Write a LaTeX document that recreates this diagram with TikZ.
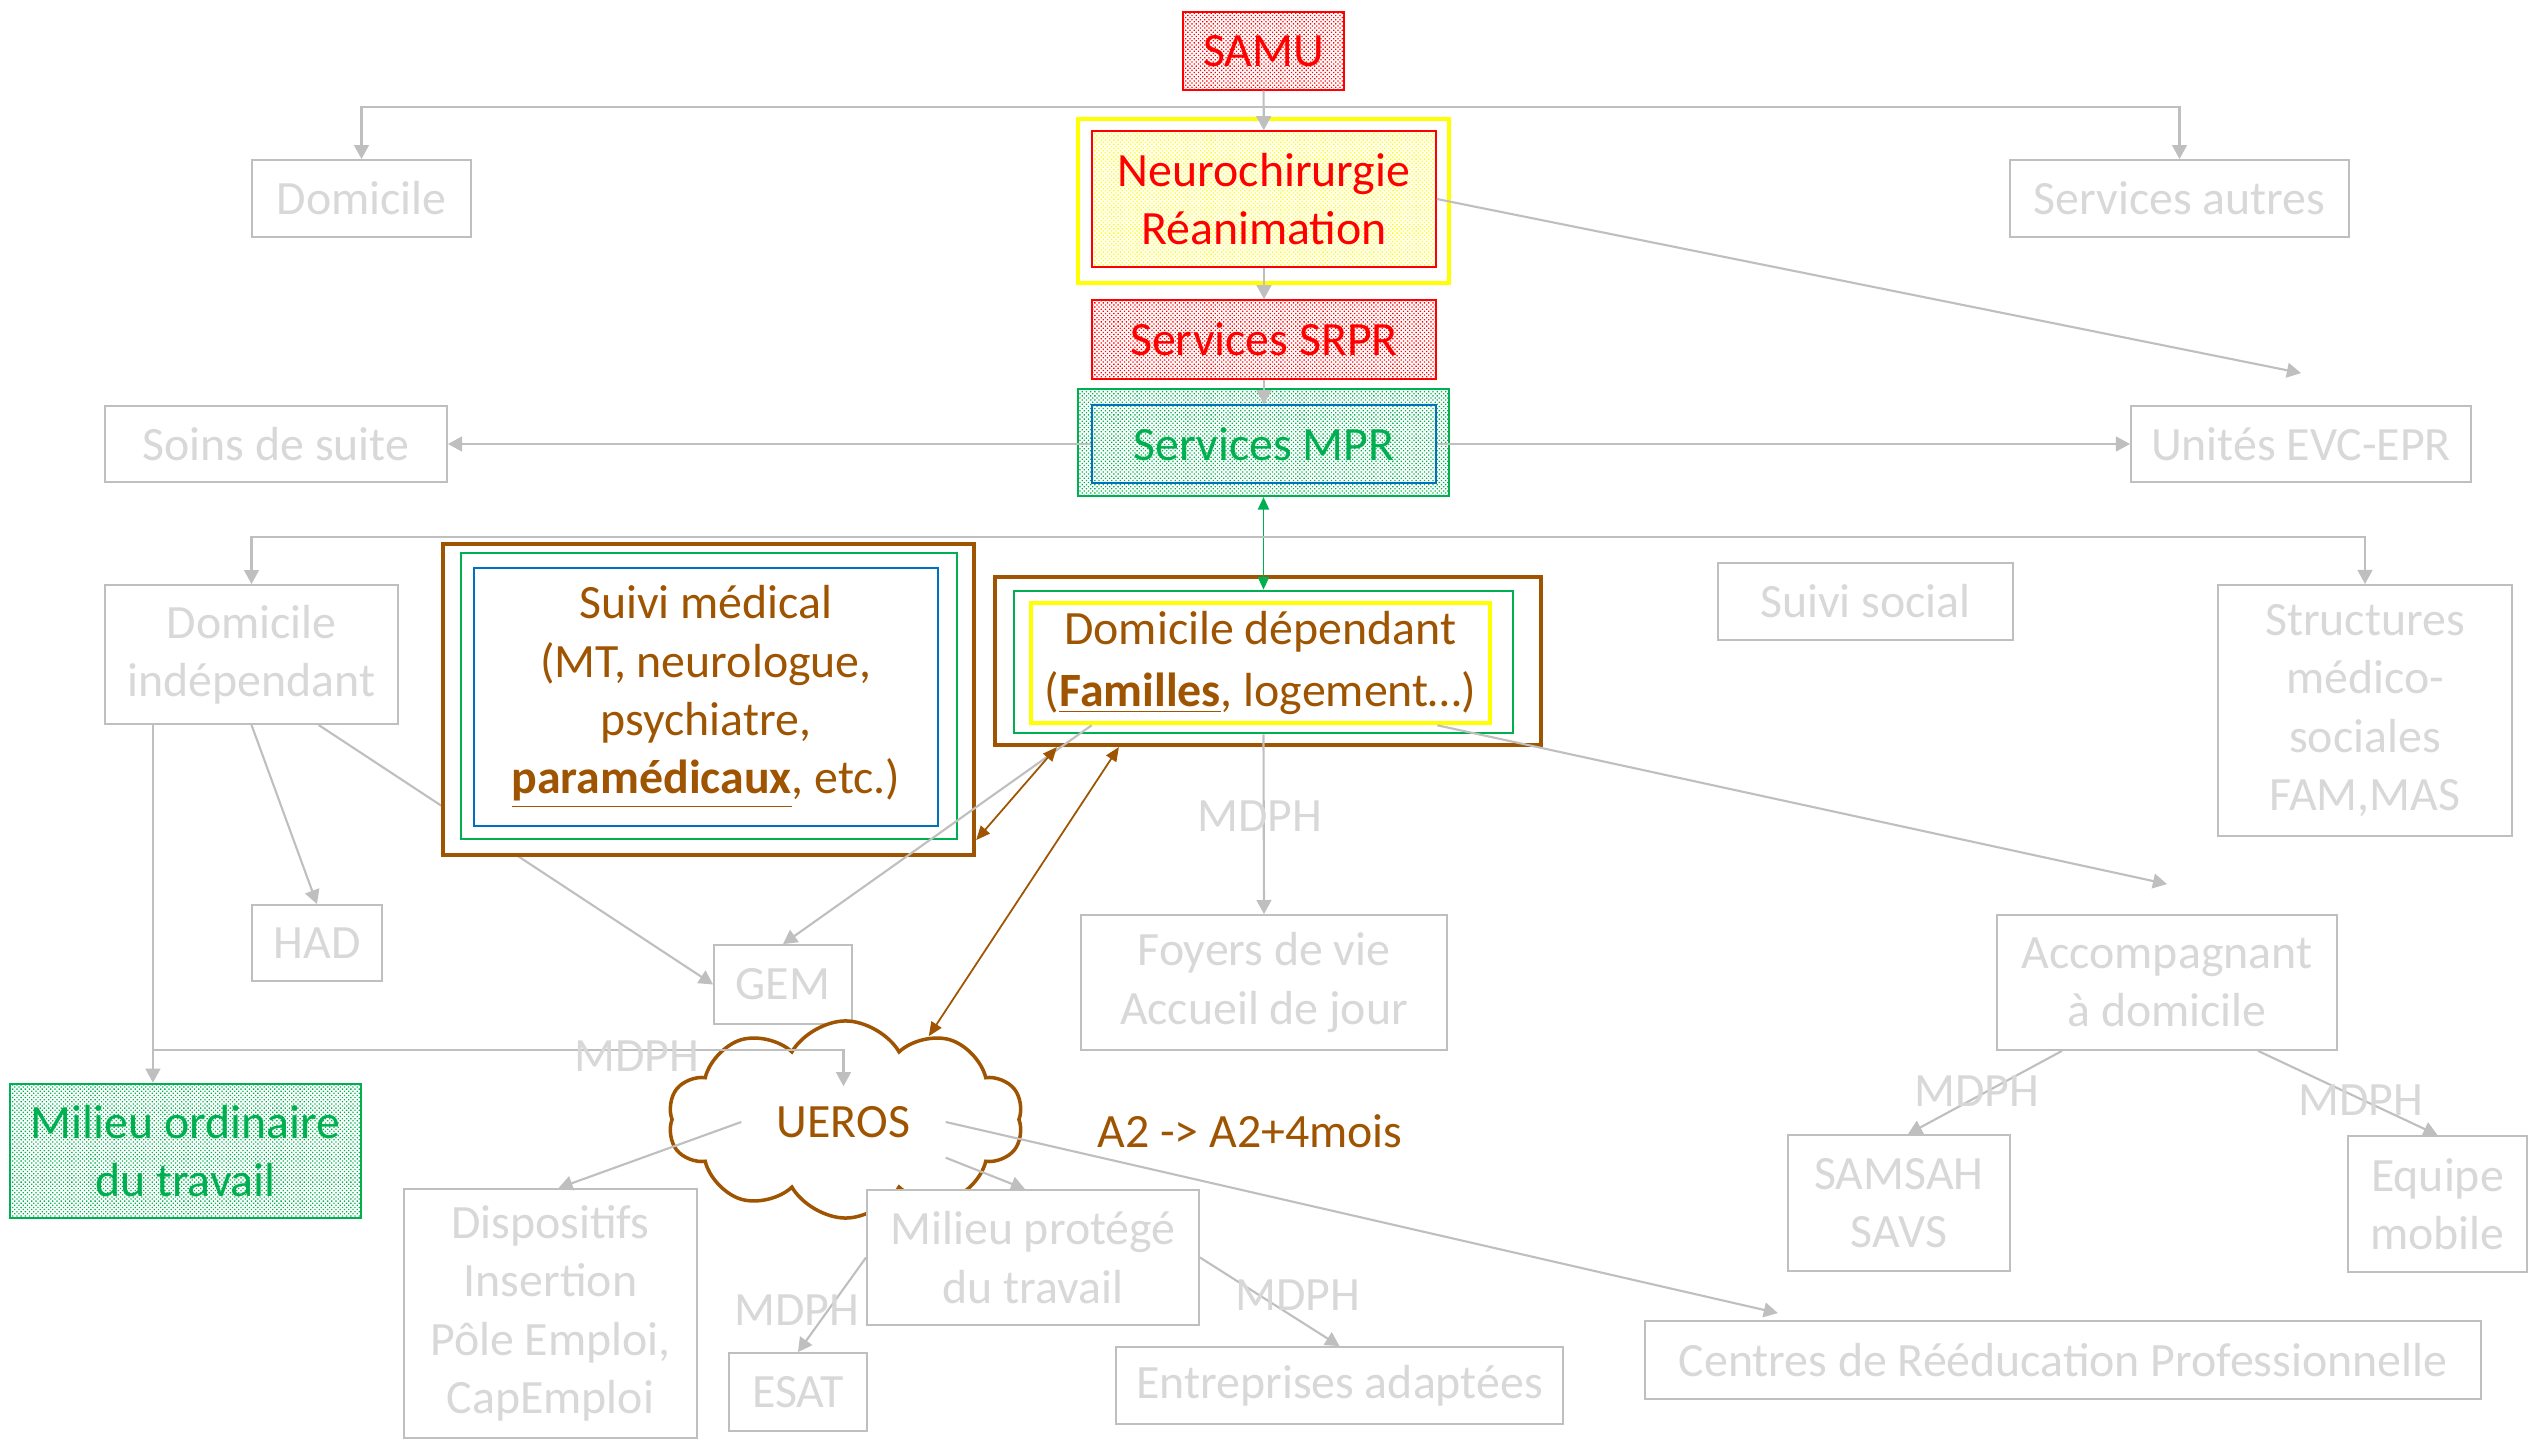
\documentclass[tikz,border=0pt]{standalone}
\usepackage{fontspec}
\setmainfont{Carlito}
\usetikzlibrary{arrows.meta,shapes.symbols,patterns.meta}
\pgfdeclarelayer{background}
\pgfsetlayers{background,main}
\definecolor{linegray}{RGB}{191,191,191}
\definecolor{textgray}{RGB}{216,216,216}
\definecolor{ppbrown}{RGB}{158,84,0}
\definecolor{ppgreen}{RGB}{0,176,80}
\definecolor{ppblue}{RGB}{0,112,192}
\definecolor{ppred}{RGB}{255,0,0}
\definecolor{ppyellow}{RGB}{255,255,0}
\newcommand{\diagfont}{\fontsize{13.6pt}{16.6pt}\selectfont}
\tikzset{
  dims/.style 2 args={minimum width=#1, minimum height=#2},
  box/.style={
    rectangle,
    inner sep=0pt,
    align=center,
    font=\diagfont
  },
  box-gray/.style={box, draw=linegray, line width=0.5pt, fill=white, text=textgray},
  box-dots/.style={
    box,
    preaction={fill=white},
    pattern={Dots[radius=0.26pt, distance=0.85pt, angle=45]}
  },
  box-red/.style={box-dots, draw=ppred, line width=0.4pt, pattern color=ppred, text=ppred},
  box-yellow/.style={box-dots, draw=ppred, line width=0.4pt, pattern color=ppyellow, text=ppred},
  box-green/.style={box-dots, draw=ppgreen, line width=0.7pt, pattern color=ppgreen, text=ppgreen},
  frame-yellow/.style={box, draw=ppyellow, line width=1.3pt},
  frame-brown/.style={box, draw=ppbrown, line width=1.15pt, fill=white},
  frame-green/.style={box, draw=ppgreen, line width=0.75pt},
  frame-blue/.style={box, draw=ppblue, line width=0.45pt},
  tag-gray/.style={font=\diagfont, text=textgray, inner sep=0pt},
  arrow-gray/.style={draw=linegray, line width=0.6pt, -{Triangle[length=4pt, width=4.2pt]}},
  arrow-brown/.style={draw=ppbrown, line width=0.5pt,
    {Triangle[length=4pt, width=3.4pt]}-{Triangle[length=4pt, width=3.4pt]}},
  arrow-green/.style={draw=ppgreen, line width=0.5pt,
    {Triangle[length=3.6pt, width=3.2pt]}-{Triangle[length=3.6pt, width=3.2pt]}}
}
\newcommand{\boldul}[1]{\underline{\textbf{#1}}}

\begin{document}
\begin{tikzpicture}[x=0.01cm, y=-0.01cm]
  \useasboundingbox (0,0) rectangle (2529,1440);
  % Hospital path
  \node[box-red, dims={1.61cm}{0.78cm}] (samu) at (1263.5,51) {SAMU};
  \node[frame-yellow, dims={3.71cm}{1.64cm}] (neuro-frame) at (1263.5,201) {};
  \node[box-yellow, dims={3.44cm}{1.36cm}] (neuro) at (1264,199) {Neurochirurgie\\Réanimation};
  \node[box-red, dims={3.44cm}{0.79cm}] (srpr) at (1264,339.5) {Services SRPR};
  \node[box-green, line width=0.6pt, dims={3.71cm}{1.07cm}] (mpr-frame) at (1263.5,442.5) {};
  \node[frame-blue, line width=0.4pt, text=ppgreen, dims={3.44cm}{0.78cm}] (mpr) at (1264,444) {Services MPR};
  % Side exits
  \node[box-gray, dims={2.19cm}{0.77cm}] (dom) at (361.5,198.5) {Domicile};
  \node[box-gray, dims={3.39cm}{0.77cm}] (autres) at (2179.5,198.5) {Services autres};
  \node[box-gray, dims={3.42cm}{0.76cm}] (soins) at (276,444) {Soins de suite};
  \node[box-gray, dims={3.40cm}{0.76cm}] (evc) at (2301,444) {Unités EVC-EPR};
  % Life after MPR
  \node[box-gray, dims={2.93cm}{1.39cm}] (dind) at (251.5,654.5) {Domicile\\indépendant};
  \node[frame-brown, dims={5.31cm}{3.11cm}] (suivi-frame) at (708.5,699.5) {};
  \node[frame-green, dims={4.96cm}{2.86cm}] (suivi-inner) at (709,696) {};
  \node[frame-blue, text=ppbrown, dims={4.64cm}{2.58cm}] (suivi) at (706,697)
    {Suivi médical\\(MT, neurologue,\\psychiatre,\\\boldul{paramédicaux}, etc.)};
  \node[frame-brown, dims={5.46cm}{1.68cm}] (dd-frame) at (1268,661) {};
  \node[frame-green, dims={4.99cm}{1.42cm}] (dd-inner) at (1263.5,662) {};
  \node[frame-yellow, text=ppbrown, dims={4.59cm}{1.20cm}] (dd) at (1260.5,663)
    {Domicile dépendant\\[1pt](\boldul{Familles}, logement…)};
  \node[box-gray, dims={2.95cm}{0.77cm}] (social) at (1865.5,601.5) {Suivi social};
  \node[box-gray, dims={2.94cm}{2.51cm}] (struct) at (2365,710.5) {Structures\\médico-\\sociales\\FAM,MAS};
  \node[box-gray, dims={1.30cm}{0.76cm}] (had) at (317,943) {HAD};
  \node[box-gray, dims={1.38cm}{0.79cm}] (gem) at (783,984.5) {GEM};
  \node[box-gray, dims={3.66cm}{1.35cm}] (foyers) at (1264,982.5) {Foyers de vie\\Accueil de jour};
  \node[box-gray, dims={3.40cm}{1.35cm}] (accomp) at (2167,982.5) {Accompagnant\\à domicile};
  % Work
  \node[box-green, dims={3.51cm}{1.34cm}] (mot) at (185.5,1151) {Milieu ordinaire\\du travail};
  \node[cloud, cloud puffs=10, cloud puff arc=120, aspect=1.8, draw=ppbrown, line width=1pt,
    fill=white, inner sep=0pt, dims={3.55cm}{1.97cm}] (ueros-cloud) at (845.5,1119.5) {};
  \node[box, text=ppbrown, dims={2.03cm}{0.70cm}] (ueros) at (843.5,1122) {UEROS};
  \node[box, text=ppbrown] (delai) at (1250,1131) {A2 -> A2+4mois};
  \node[box-gray, dims={2.93cm}{2.49cm}] (disp) at (550.5,1313.5) {Dispositifs\\Insertion\\Pôle Emploi,\\CapEmploi};
  \node[box-gray, dims={3.32cm}{1.35cm}] (mp) at (1033,1257.5) {Milieu protégé\\du travail};
  \node[box-gray, dims={1.38cm}{0.78cm}] (esat) at (798,1392) {ESAT};
  \node[box-gray, dims={4.47cm}{0.77cm}] (ea) at (1339.5,1385.5) {Entreprises adaptées};
  \node[box-gray, dims={8.36cm}{0.78cm}] (crp) at (2063,1360) {Centres de Rééducation Professionnelle};
  \node[box-gray, dims={2.22cm}{1.36cm}] (samsah) at (1899,1203) {SAMSAH\\SAVS};
  \node[box-gray, dims={1.79cm}{1.36cm}] (equipe) at (2437.5,1204) {Equipe\\mobile};

  % Connectors
  \coordinate (bar-top) at (1263.5,107);
  \coordinate (bar-mid) at (1263.5,537);
  \coordinate (bar-mdph) at (153,1050);
  \coordinate (dind-foot) at ([xshift=-0.985cm]dind.south);
  \begin{pgfonlayer}{background}
    \draw[arrow-gray] ([xshift=0.67cm]dind.south) -- (gem.west);
  \end{pgfonlayer}
  \draw[arrow-gray] (samu) -- (neuro);
  \draw[arrow-gray] (bar-top) -| (dom.north);
  \draw[arrow-gray] (bar-top) -| (autres.north);
  \draw[arrow-gray] (neuro) -- (srpr);
  \draw[arrow-gray] (srpr) -- (mpr);
  \draw[arrow-gray] (neuro.east) -- ([yshift=0.32cm]evc.north);
  \draw[arrow-gray] (mpr.west) -- (soins.east);
  \draw[arrow-gray] (mpr.east) -- (evc.west);
  \draw[arrow-green] (mpr-frame.south) -- (dd-inner.north);
  \draw[arrow-gray] (bar-mid) -| (dind.north);
  \draw[arrow-gray] (bar-mid) -| (struct.north);
  \draw[arrow-gray] (dind.south) -- (had.north);
  \draw[arrow-gray] (dind-foot) -- (dind-foot |- mot.north);
  \draw[arrow-gray] (bar-mdph) -| (ueros.north);
  \draw[arrow-gray] ([xshift=0.63cm]dd.south west) -- (gem.north);
  \draw[arrow-gray] (dd-inner.south) -- (foyers.north);
  \draw[arrow-gray] ([xshift=-0.55cm]dd.south east) -- ([yshift=0.3cm]accomp.north);
  \draw[arrow-brown] ([yshift=0.17cm]suivi-frame.south east) -- ([xshift=0.64cm]dd-frame.south west);
  \draw[arrow-brown] ([xshift=1.26cm]dd-frame.south west) -- (ueros-cloud.45);
  \draw[arrow-gray] (ueros.west) -- ([xshift=0.08cm]disp.north);
  \draw[arrow-gray] (ueros.south east) -- ([xshift=-0.08cm]mp.north);
  \draw[arrow-gray] (ueros.east) -- ([xshift=-2.85cm, yshift=0.07cm]crp.north);
  \draw[arrow-gray] (mp.west) -- (esat.north);
  \draw[arrow-gray] (mp.east) -- (ea.north);
  \draw[arrow-gray] ([xshift=-1.05cm]accomp.south) -- ([xshift=0.09cm]samsah.north);
  \draw[arrow-gray] ([xshift=0.91cm]accomp.south) -- (equipe.north);
  % MDPH tags
  \node[tag-gray] (mdph-ueros) at (637,1056) {MDPH};
  \node[tag-gray] (mdph-foyers) at (1260,816) {MDPH};
  \node[tag-gray] (mdph-esat) at (797,1310) {MDPH};
  \node[tag-gray] (mdph-ea) at (1298,1295) {MDPH};
  \node[tag-gray] (mdph-samsah) at (1977,1091) {MDPH};
  \node[tag-gray] (mdph-equipe) at (2361,1100) {MDPH};
\end{tikzpicture}
\end{document}
